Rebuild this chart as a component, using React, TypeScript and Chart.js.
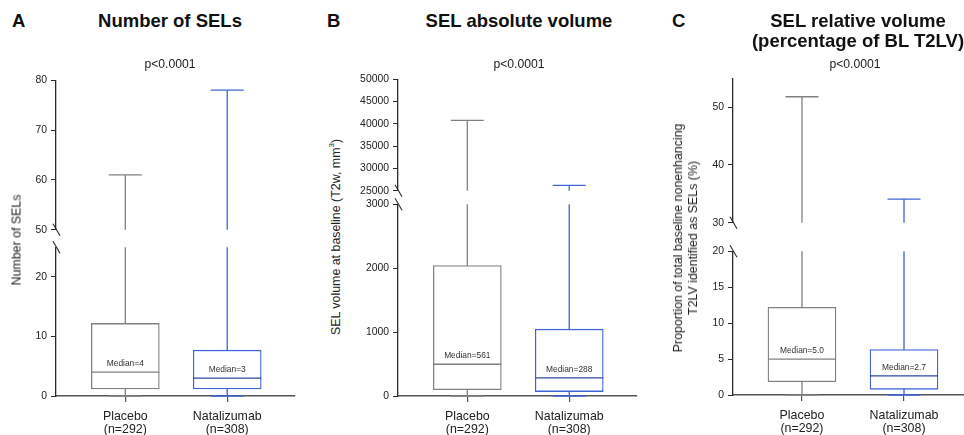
import React, { useEffect, useRef } from 'react';
import { Chart, registerables } from 'chart.js';

Chart.register(...registerables);

// ---------------- data ----------------
const groups = ['Placebo', 'Natalizumab'];
const groupN = ['(n=292)', '(n=308)'];

// Panel A: number of SELs
const countMin = [0, 0];
const countQ1 = [1.2, 1.2];
const countMedian = [4, 3];
const countQ3 = [12.2, 7.7];
const countMax = [61, 78];
const countMedianLabels = ['Median=4', 'Median=3'];
const countUpperTicks = [50, 60, 70, 80];
const countLowerTicks = [0, 10, 20];

// Panel B: SEL absolute volume
const volMin = [0, 0];
const volQ1 = [100, 69];
const volMedian = [497, 285];
const volQ3 = [2040, 1045];
const volMax = [40800, 26200];
const volMedianLabels = ['Median=561', 'Median=288'];
const volUpperTicks = [25000, 30000, 35000, 40000, 45000, 50000];
const volLowerTicks = [0, 1000, 2000, 3000];

// Panel C: SEL relative volume
const relMin = [0, 0];
const relQ1 = [1.84, 0.79];
const relMedian = [5.0, 2.67];
const relQ3 = [12.2, 6.33];
const relMax = [51.8, 34.1];
const relMedianLabels = ['Median=5.0', 'Median=2.7'];
const relUpperTicks = [30, 40, 50];
const relLowerTicks = [0, 5, 10, 15, 20];

// ---------------- styles / layout ----------------
const FONT = 'Arial, "Liberation Sans", Helvetica, sans-serif';
const GRAY = '#808080';
const BLUE = '#3f63d8';
const BLUE_DARK = '#2c46a6';
const Y_AXIS_COLOR = '#2a2a2a';
const X_AXIS_COLOR = '#555555';
const TEXT = '#222222';
const LW = 1.3;
const Y_AXIS_W = 50;
const PAD = 10;
const X_AXIS_H = 44;
const PAD_RIGHT = 8;

type Seg = { top: number; bottom: number; min: number; max: number; ticks: number[] };
type Panel = {
  key: string;
  min: number[]; q1: number[]; median: number[]; q3: number[]; max: number[];
  medianLabels: string[];
  left: number; right: number; xMin: number; xMax: number;
  upper: Seg; lower: Seg;
};

const panels: Panel[] = [
  {
    key: 'A', min: countMin, q1: countQ1, median: countMedian, q3: countQ3, max: countMax,
    medianLabels: countMedianLabels,
    left: 56, right: 295, xMin: -0.68, xMax: 1.665,
    upper: { top: 80, bottom: 230, min: 50, max: 80, ticks: countUpperTicks },
    lower: { top: 247, bottom: 396, min: 0, max: 25, ticks: countLowerTicks },
  },
  {
    key: 'B', min: volMin, q1: volQ1, median: volMedian, q3: volQ3, max: volMax,
    medianLabels: volMedianLabels,
    left: 398, right: 637, xMin: -0.68, xMax: 1.665,
    upper: { top: 79, bottom: 191, min: 25000, max: 50000, ticks: volUpperTicks },
    lower: { top: 204, bottom: 396, min: 0, max: 3000, ticks: volLowerTicks },
  },
  {
    key: 'C', min: relMin, q1: relQ1, median: relMedian, q3: relQ3, max: relMax,
    medianLabels: relMedianLabels,
    left: 733, right: 964, xMin: -0.676, xMax: 1.588,
    upper: { top: 78, bottom: 223, min: 30, max: 55, ticks: relUpperTicks },
    lower: { top: 251, bottom: 395, min: 0, max: 20, ticks: relLowerTicks },
  },
];

const breakMarkPlugin = {
  id: 'breakMark',
  afterDraw(chart: any, _args: any, opts: any) {
    const { ctx, chartArea } = chart;
    const x = chartArea.left + 0.5;
    const y = opts.part === 'upper' ? chartArea.bottom : chartArea.top;
    ctx.save();
    ctx.strokeStyle = Y_AXIS_COLOR;
    ctx.lineWidth = 1.1;
    ctx.beginPath();
    ctx.moveTo(x - 3.5, y - 6);
    ctx.lineTo(x + 3.5, y + 6);
    ctx.stroke();
    ctx.restore();
  },
};

const medianLabelPlugin = {
  id: 'medianLabel',
  afterDatasetsDraw(chart: any, _args: any, opts: any) {
    if (!opts.show) return;
    const { ctx } = chart;
    const xs = chart.scales.x;
    const ys = chart.scales.y;
    ctx.save();
    ctx.font = `8.4px ${FONT}`;
    ctx.fillStyle = '#333333';
    ctx.textAlign = 'center';
    ctx.textBaseline = 'middle';
    (opts.values as number[]).forEach((m, i) => {
      const px = xs.getPixelForValue(i);
      const py = ys.getPixelForValue(m);
      ctx.fillText(opts.labels[i], px, py - 8.5);
    });
    ctx.restore();
  },
};

function buildConfig(p: Panel, part: 'upper' | 'lower') {
  const seg = p[part];
  const isLower = part === 'lower';
  const colors = [GRAY, BLUE];
  const medColors = [GRAY, BLUE_DARK];
  const idx = groups.map((_, i) => i);
  const whiskers = idx.map((i) => ({
    type: 'line',
    data: [{ x: i, y: p.min[i] }, { x: i, y: p.max[i] }],
    borderColor: colors[i],
    borderWidth: LW,
    pointRadius: 0,
    pointHoverRadius: 0,
    order: 3,
    clip: 0,
  }));
  return {
    type: 'bar',
    data: {
      datasets: [
        ...whiskers,
        {
          type: 'bar',
          data: idx.map((i) => ({ x: i, y: [p.q1[i], p.q3[i]] })),
          backgroundColor: '#ffffff',
          borderColor: colors,
          borderWidth: LW,
          borderSkipped: false,
          barThickness: 68,
          order: 2,
          clip: 2,
        },
        {
          type: 'scatter',
          data: [...idx.map((i) => ({ x: i, y: p.max[i] })), ...idx.map((i) => ({ x: i, y: p.min[i] }))],
          pointStyle: 'line',
          pointRadius: 16.5,
          pointHoverRadius: 16.5,
          pointBorderWidth: LW,
          pointBorderColor: [...colors, ...colors],
          borderColor: [...colors, ...colors],
          order: 1,
          clip: 3,
        },
        {
          type: 'scatter',
          data: idx.map((i) => ({ x: i, y: p.median[i] })),
          pointStyle: 'line',
          pointRadius: 34,
          pointHoverRadius: 34,
          pointBorderWidth: LW,
          pointBorderColor: medColors,
          borderColor: medColors,
          order: 0,
          clip: 3,
        },
      ],
    },
    options: {
      responsive: false,
      animation: false,
      devicePixelRatio: 1,
      events: [],
      layout: {
        autoPadding: false,
        padding: { left: 0, right: PAD_RIGHT, top: PAD, bottom: isLower ? 0 : PAD },
      },
      plugins: {
        legend: { display: false },
        tooltip: { enabled: false },
        title: { display: false },
        breakMark: { part },
        medianLabel: { show: isLower, values: p.median, labels: p.medianLabels },
      },
      scales: {
        x: {
          type: 'linear',
          min: p.xMin,
          max: p.xMax,
          offset: false,
          display: isLower,
          grid: {
            display: true,
            drawOnChartArea: false,
            drawTicks: true,
            tickLength: 6,
            color: X_AXIS_COLOR,
            lineWidth: 1.2,
            offset: false,
          },
          border: { display: true, color: X_AXIS_COLOR, width: 1.4 },
          afterBuildTicks: (s: any) => {
            s.ticks = groups.map((_, i) => ({ value: i }));
          },
          ...(isLower ? { afterFit: (s: any) => { s.height = X_AXIS_H; } } : {}),
          ticks: {
            callback: (v: any) => [groups[v], groupN[v]],
            color: TEXT,
            font: { family: FONT, size: 12.4, lineHeight: '13px' },
            padding: 8,
            maxRotation: 0,
            autoSkip: false,
          },
        },
        y: {
          type: 'linear',
          min: seg.min,
          max: seg.max,
          grid: {
            display: true,
            drawOnChartArea: false,
            drawTicks: true,
            tickLength: 5,
            color: Y_AXIS_COLOR,
            lineWidth: 1,
          },
          border: { display: true, color: Y_AXIS_COLOR, width: 1.3 },
          afterBuildTicks: (s: any) => {
            s.ticks = seg.ticks.map((v) => ({ value: v }));
          },
          afterFit: (s: any) => { s.width = Y_AXIS_W; },
          ticks: {
            callback: (v: any) => String(v),
            color: TEXT,
            font: { family: FONT, size: 10.4 },
            padding: 4,
            autoSkip: false,
          },
        },
      },
    },
    plugins: [breakMarkPlugin, medianLabelPlugin],
  };
}

function SubChart({ panel, part }: { panel: Panel; part: 'upper' | 'lower' }) {
  const ref = useRef<HTMLCanvasElement>(null);
  const seg = panel[part];
  const left = panel.left - Y_AXIS_W;
  const top = seg.top - PAD;
  const width = panel.right - panel.left + Y_AXIS_W + PAD_RIGHT;
  const height = part === 'upper' ? seg.bottom - seg.top + 2 * PAD : seg.bottom - seg.top + PAD + X_AXIS_H;
  useEffect(() => {
    const chart = new Chart(ref.current as HTMLCanvasElement, buildConfig(panel, part) as any);
    return () => chart.destroy();
  }, []);
  return (
    <canvas
      ref={ref}
      width={width}
      height={height}
      style={{ position: 'absolute', left, top, width, height, display: 'block' }}
    />
  );
}

const abs = (style: React.CSSProperties): React.CSSProperties => ({ position: 'absolute', ...style });

export default function App() {
  const letterStyle: React.CSSProperties = { fontWeight: 'bold', fontSize: 18.5, lineHeight: '20px', color: '#111' };
  const titleStyle: React.CSSProperties = {
    fontWeight: 'bold', fontSize: 18.5, lineHeight: '20px', color: '#111', textAlign: 'center', width: 400, whiteSpace: 'nowrap',
  };
  const pStyle: React.CSSProperties = { fontSize: 12.2, lineHeight: '14px', color: TEXT, textAlign: 'center', width: 200, whiteSpace: 'nowrap' };
  const yTitle = (cx: number, cy: number): React.CSSProperties => ({
    position: 'absolute', left: cx, top: cy, transform: 'translate(-50%, -50%) rotate(-90deg)',
    fontSize: 12.4, lineHeight: '15px', color: TEXT, whiteSpace: 'nowrap', textAlign: 'center',
  });
  return (
    <div
      style={{
        position: 'fixed', left: 0, top: 0, width: 964, height: 435, overflow: 'hidden',
        background: '#ffffff', fontFamily: FONT,
      }}
    >
      {panels.map((p) => (
        <React.Fragment key={p.key}>
          <SubChart panel={p} part="upper" />
          <SubChart panel={p} part="lower" />
        </React.Fragment>
      ))}

      <div style={abs({ left: 12, top: 11, ...letterStyle })}>A</div>
      <div style={abs({ left: 170 - 200, top: 11, ...titleStyle })}>Number of SELs</div>
      <div style={abs({ left: 170 - 100, top: 57, ...pStyle })}>p&lt;0.0001</div>
      <div style={yTitle(17, 240)}>Number of SELs</div>

      <div style={abs({ left: 327, top: 11, ...letterStyle })}>B</div>
      <div style={abs({ left: 519 - 200, top: 11, ...titleStyle })}>SEL absolute volume</div>
      <div style={abs({ left: 519 - 100, top: 57, ...pStyle })}>p&lt;0.0001</div>
      <div style={yTitle(336, 237)}>
        SEL volume at baseline (T2w, mm<sup style={{ fontSize: 8, lineHeight: 0 }}>3</sup>)
      </div>

      <div style={abs({ left: 672, top: 11, ...letterStyle })}>C</div>
      <div style={abs({ left: 858 - 200, top: 11, ...titleStyle })}>
        SEL relative volume
        <br />
        (percentage of BL T2LV)
      </div>
      <div style={abs({ left: 855 - 100, top: 57, ...pStyle })}>p&lt;0.0001</div>
      <div style={yTitle(686, 238)}>
        Proportion of total baseline nonenhancing
        <br />
        T2LV identified as SELs (%)
      </div>
    </div>
  );
}
